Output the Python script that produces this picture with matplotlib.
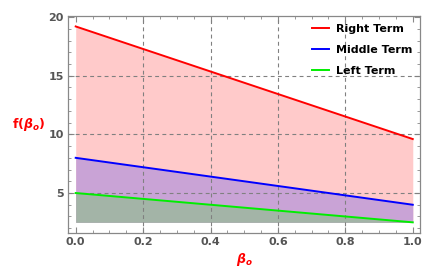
import matplotlib
matplotlib.use("Agg")
import matplotlib.pyplot as plt
from matplotlib.ticker import MultipleLocator

plt.rcParams['mathtext.fontset'] = 'custom'
plt.rcParams['mathtext.it'] = 'DejaVu Sans:italic:bold'
plt.rcParams['mathtext.rm'] = 'DejaVu Sans:bold'

beta = [0.0, 1.0]
right_term = [19.2, 9.6]
middle_term = [8.0, 4.0]
left_term = [5.0, 2.5]
fill_base = 2.5

xticks = [0.0, 0.2, 0.4, 0.6, 0.8, 1.0]
xticklabels = ["0.0", "0.2", "0.4", "0.6", "0.8", "1.0"]
yticks = [5, 10, 15, 20]
yticklabels = ["5", "10", "15", "20"]

fig = plt.figure(figsize=(4.47, 2.74), dpi=100)
ax = fig.add_axes([0.152, 0.150, 0.788, 0.792])

ax.fill_between(beta, fill_base, right_term, color="#FFCACA", lw=0, zorder=1)
ax.fill_between(beta, fill_base, middle_term, color="#C9A3D6", lw=0, zorder=1.1)
ax.fill_between(beta, fill_base, left_term, color="#A3B4A7", lw=0, zorder=1.2)

ax.plot(beta, right_term, color="#FF0000", lw=1.4, label="Right Term", zorder=3)
ax.plot(beta, middle_term, color="#0000FF", lw=1.4, label="Middle Term", zorder=3)
ax.plot(beta, left_term, color="#00EE00", lw=1.4, label="Left Term", zorder=3)

for gx in [0.2, 0.4, 0.6, 0.8]:
    ax.axvline(gx, color="#808080", lw=0.8, ls=(0, (3.5, 3)), zorder=2)
for gy in [5, 10, 15]:
    ax.axhline(gy, color="#808080", lw=0.8, ls=(0, (3.5, 3)), zorder=2)

ax.set_xlim(-0.023, 1.022)
ax.set_ylim(1.6, 20.1)
ax.set_xticks(xticks)
ax.set_xticklabels(xticklabels)
ax.set_yticks(yticks)
ax.set_yticklabels(yticklabels)
ax.xaxis.set_minor_locator(MultipleLocator(0.05))
ax.yaxis.set_minor_locator(MultipleLocator(1))
ax.tick_params(which="both", direction="in", top=True, right=True, color="#888888")
ax.tick_params(which="major", length=4, width=0.8, labelsize=8, labelcolor="#555555", pad=3)
ax.tick_params(which="minor", length=2, width=0.6)
for lbl in ax.get_xticklabels() + ax.get_yticklabels():
    lbl.set_fontweight("bold")
for s in ax.spines.values():
    s.set_color("#888888")
    s.set_linewidth(0.9)

ax.set_xlabel(r"$\beta_o$", color="#FF0000", fontsize=9, fontweight="bold", labelpad=3)
ax.set_ylabel(r"f($\beta_o$)", color="#FF0000", fontsize=9, fontweight="bold", rotation=0, labelpad=14, va="center")

leg = ax.legend(loc="upper right", frameon=False, fontsize=8, handlelength=1.6, borderaxespad=0.3, labelspacing=1.0, handletextpad=0.6)
for t in leg.get_texts():
    t.set_fontweight("bold")

fig.savefig("out.png", dpi=100)
